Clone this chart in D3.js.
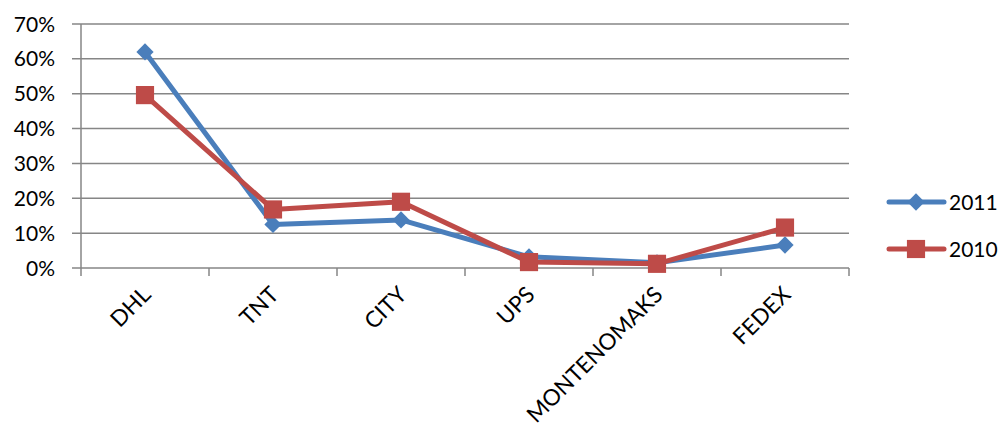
<!DOCTYPE html>
<html><head><meta charset="utf-8">
<script src="https://cdn.jsdelivr.net/npm/d3@7"></script>
<style>body{margin:0;background:#fff}svg{display:block}text{font-family:Lato,"Open Sans",sans-serif;fill:#000}</style>
</head><body>
<svg id="c" width="1005" height="430"></svg>
<script>
const categories = ["DHL","TNT","CITY","UPS","MONTENOMAKS","FEDEX"];
const series2011 = [0.62,0.125,0.138,0.032,0.015,0.066];
const series2010 = [0.496,0.168,0.19,0.017,0.012,0.116];
const seriesNames = ["2011","2010"];
const yTicks = [0,0.1,0.2,0.3,0.4,0.5,0.6,0.7];

const svg = d3.select("#c");
const pL = 81, pR = 849, pT = 24, pB = 268;
const x = d3.scaleBand().domain(categories).range([pL,pR]);
const y = d3.scaleLinear().domain([0,0.7]).range([pB,pT]);
const grid = "#868686";

// gridlines
svg.append("g").selectAll("line").data(yTicks).join("line")
  .attr("x1",pL-9).attr("x2",pR).attr("y1",d=>y(d)).attr("y2",d=>y(d))
  .attr("stroke",grid).attr("stroke-width",1.5);
// y axis line
svg.append("line").attr("x1",pL).attr("x2",pL).attr("y1",pT).attr("y2",pB)
  .attr("stroke",grid).attr("stroke-width",1.5);
// x ticks
const xb = categories.map(c=>x(c)).concat([pR]);
svg.append("g").selectAll("line").data(xb).join("line")
  .attr("x1",d=>d).attr("x2",d=>d).attr("y1",pB).attr("y2",pB+8)
  .attr("stroke",grid).attr("stroke-width",1.5);
// y labels
svg.append("g").selectAll("text").data(yTicks).join("text")
  .attr("x",55).attr("y",d=>y(d)).attr("dy","0.36em").attr("text-anchor","end")
  .style("font-size","21px").text(d=>Math.round(d*100)+"%");
// x labels
svg.append("g").selectAll("text").data(categories).join("text")
  .attr("text-anchor","end")
  .attr("transform",c=>`translate(${x(c)+x.bandwidth()/2-4},${pB+17}) rotate(-45)`)
  .attr("dy","0.7em")
  .style("font-size","22.5px").text(d=>d);

const colors = ["#4A7EBB","#BE4B48"];
const data = [series2011, series2010];
const line = d3.line().x((d,i)=>x(categories[i])+x.bandwidth()/2).y(d=>y(d));
const diamond = d3.symbol().type(d3.symbolDiamond2).size(190);
const square = d3.symbol().type(d3.symbolSquare).size(330);

data.forEach((vals,si)=>{
  svg.append("path").datum(vals).attr("d",line).attr("fill","none")
    .attr("stroke",colors[si]).attr("stroke-width",5).attr("stroke-linejoin","round");
  svg.append("g").selectAll("path").data(vals).join("path")
    .attr("transform",(d,i)=>`translate(${x(categories[i])+x.bandwidth()/2},${y(d)})`)
    .attr("d",si===0?diamond:square).attr("fill",colors[si]);
});

// legend
const ly = [202,249];
seriesNames.forEach((n,i)=>{
  svg.append("line").attr("x1",889).attr("x2",944).attr("y1",ly[i]).attr("y2",ly[i])
    .attr("stroke",colors[i]).attr("stroke-width",5).attr("stroke-linecap","round");
  svg.append("path").attr("transform",`translate(916,${ly[i]})`)
    .attr("d",i===0?diamond:square).attr("fill",colors[i]);
  svg.append("text").attr("x",949).attr("y",ly[i]).attr("dy","0.36em")
    .style("font-size","21px").text(n);
});
</script>
</body></html>
